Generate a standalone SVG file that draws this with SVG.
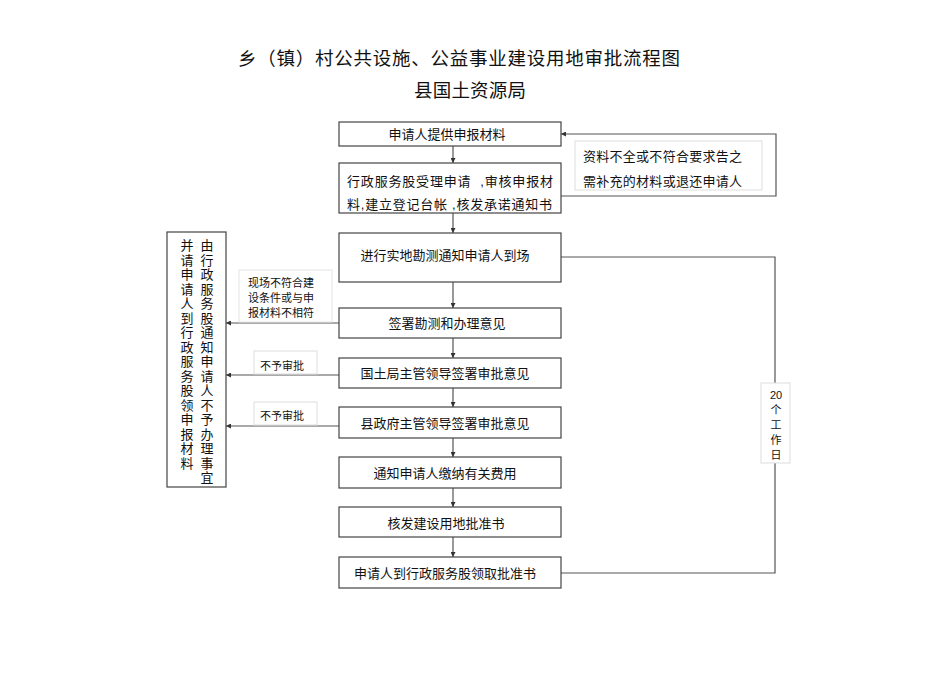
<svg xmlns="http://www.w3.org/2000/svg" width="950" height="673" viewBox="0 0 950 673">
<style>
text{font-family:"Liberation Sans","Noto Sans CJK SC",sans-serif;fill:#111;dominant-baseline:central}
.t{font-size:13px}
.s{font-size:11px}
.box{fill:#fff;stroke:#444;stroke-width:1.2}
.lab{fill:#fff;stroke:#ddd;stroke-width:1}
.c{fill:none;stroke:#555;stroke-width:1.2}
.m{text-anchor:middle}
</style>
<defs>
<marker id="ah" viewBox="0 0 10 10" refX="10" refY="5" markerWidth="5" markerHeight="5" orient="auto" markerUnits="userSpaceOnUse">
<path d="M0,0 L10,5 L0,10 z" fill="#333"/>
</marker>
</defs>
<rect width="950" height="673" fill="#fff"/>
<g id="title">
<text x="238" y="58" style="font-size:18.5px" textLength="442" lengthAdjust="spacing">乡（镇）村公共设施、公益事业建设用地审批流程图</text>
<text x="414" y="90" style="font-size:18.5px" textLength="112" lengthAdjust="spacing">县国土资源局</text>
</g>
<g id="connectors">
<line class="c" x1="453" y1="146" x2="453" y2="163" marker-end="url(#ah)"/>
<line class="c" x1="453" y1="213" x2="453" y2="233" marker-end="url(#ah)"/>
<line class="c" x1="453" y1="282" x2="453" y2="308" marker-end="url(#ah)"/>
<line class="c" x1="453" y1="338" x2="453" y2="358" marker-end="url(#ah)"/>
<line class="c" x1="453" y1="388" x2="453" y2="407" marker-end="url(#ah)"/>
<line class="c" x1="453" y1="438" x2="453" y2="457" marker-end="url(#ah)"/>
<line class="c" x1="453" y1="488" x2="453" y2="507" marker-end="url(#ah)"/>
<line class="c" x1="453" y1="537" x2="453" y2="557" marker-end="url(#ah)"/>
<polyline class="c" points="561,196 776,196 776,134 561,134" marker-end="url(#ah)"/>
<polyline class="c" points="561,257 775,257 775,573 561,573"/>
<line class="c" x1="339" y1="323" x2="226" y2="323" marker-end="url(#ah)"/>
<line class="c" x1="339" y1="375" x2="226" y2="375" marker-end="url(#ah)"/>
<line class="c" x1="339" y1="426" x2="226" y2="426" marker-end="url(#ah)"/>
</g>
<g id="label-feedback">
<rect class="lab" x="575" y="141" width="187" height="49"/>
<text x="583" y="156" class="t" textLength="159" lengthAdjust="spacing">资料不全或不符合要求告之</text>
<text x="583" y="181" class="t" textLength="159" lengthAdjust="spacing">需补充的材料或退还申请人</text>
</g>
<g id="label-days">
<rect class="lab" x="761" y="383" width="29" height="80"/>
<text x="776" y="395" class="s m">20</text>
<text x="776" y="410" class="s m">个</text>
<text x="776" y="425" class="s m">工</text>
<text x="776" y="440" class="s m">作</text>
<text x="776" y="455" class="s m">日</text>
</g>
<g id="label-site">
<rect class="lab" x="239" y="270" width="93" height="52" style="stroke:#e4e4e4"/>
<text x="248" y="283" class="s">现场不符合建</text>
<text x="248" y="298" class="s">设条件或与申</text>
<text x="248" y="313" class="s">报材料不相符</text>
</g>
<g id="label-reject1">
<rect class="lab" x="254" y="351" width="63" height="23"/>
<text x="260" y="366" class="s">不予审批</text>
</g>
<g id="label-reject2">
<rect class="lab" x="254" y="402" width="63" height="23"/>
<text x="260" y="416" class="s">不予审批</text>
</g>
<g id="n1">
<rect class="box" x="339" y="122" width="222" height="24"/>
<text x="447" y="134" class="t m">申请人提供申报材料</text>
</g>
<g id="n2">
<rect class="box" x="339" y="163" width="222" height="50"/>
<text x="347" y="181" class="t" xml:space="preserve" textLength="206" lengthAdjust="spacing">行政服务股受理申请  ,审核申报材</text>
<text x="347" y="204" class="t" xml:space="preserve" textLength="205" lengthAdjust="spacing">料,建立登记台帐 ,核发承诺通知书</text>
</g>
<g id="n3">
<rect class="box" x="339" y="233" width="222" height="49"/>
<text x="445" y="255" class="t m">进行实地勘测通知申请人到场</text>
</g>
<g id="n4">
<rect class="box" x="339" y="308" width="222" height="30"/>
<text x="447" y="323" class="t m">签署勘测和办理意见</text>
</g>
<g id="n5">
<rect class="box" x="339" y="358" width="222" height="30"/>
<text x="445" y="373" class="t m">国土局主管领导签署审批意见</text>
</g>
<g id="n6">
<rect class="box" x="339" y="407" width="222" height="31"/>
<text x="445" y="423" class="t m">县政府主管领导签署审批意见</text>
</g>
<g id="n7">
<rect class="box" x="339" y="457" width="222" height="31"/>
<text x="445" y="473" class="t m">通知申请人缴纳有关费用</text>
</g>
<g id="n8">
<rect class="box" x="339" y="507" width="222" height="30"/>
<text x="446" y="523" class="t m">核发建设用地批准书</text>
</g>
<g id="n9">
<rect class="box" x="339" y="557" width="222" height="31"/>
<text x="445" y="573" class="t m">申请人到行政服务股领取批准书</text>
</g>
<g id="n-left">
<rect class="box" x="167" y="232" width="59" height="255"/>
<text class="t m"><tspan x="207" y="245">由</tspan><tspan x="207" dy="14.5">行</tspan><tspan x="207" dy="14.5">政</tspan><tspan x="207" dy="14.5">服</tspan><tspan x="207" dy="14.5">务</tspan><tspan x="207" dy="14.5">股</tspan><tspan x="207" dy="14.5">通</tspan><tspan x="207" dy="14.5">知</tspan><tspan x="207" dy="14.5">申</tspan><tspan x="207" dy="14.5">请</tspan><tspan x="207" dy="14.5">人</tspan><tspan x="207" dy="14.5">不</tspan><tspan x="207" dy="14.5">予</tspan><tspan x="207" dy="14.5">办</tspan><tspan x="207" dy="14.5">理</tspan><tspan x="207" dy="14.5">事</tspan><tspan x="207" dy="14.5">宜</tspan></text>
<text class="t m"><tspan x="187" y="245">并</tspan><tspan x="187" dy="14.5">请</tspan><tspan x="187" dy="14.5">申</tspan><tspan x="187" dy="14.5">请</tspan><tspan x="187" dy="14.5">人</tspan><tspan x="187" dy="14.5">到</tspan><tspan x="187" dy="14.5">行</tspan><tspan x="187" dy="14.5">政</tspan><tspan x="187" dy="14.5">服</tspan><tspan x="187" dy="14.5">务</tspan><tspan x="187" dy="14.5">股</tspan><tspan x="187" dy="14.5">领</tspan><tspan x="187" dy="14.5">申</tspan><tspan x="187" dy="14.5">报</tspan><tspan x="187" dy="14.5">材</tspan><tspan x="187" dy="14.5">料</tspan></text>
</g>
</svg>
